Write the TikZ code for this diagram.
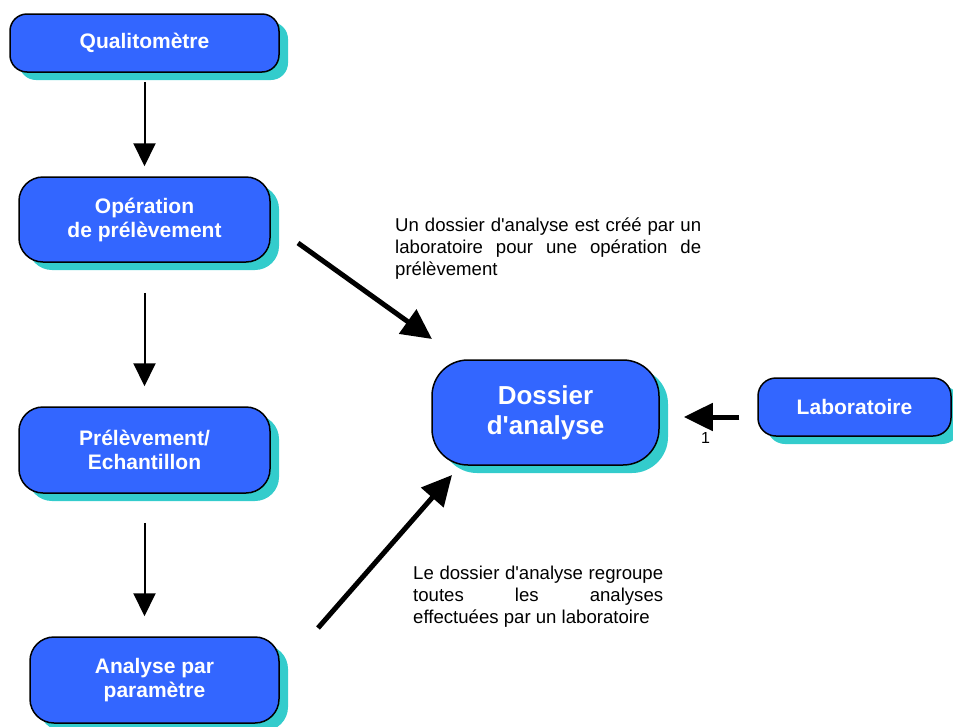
\documentclass[tikz,border=0pt]{standalone}
\usepackage{fontspec}
\setmainfont{Liberation Sans}
\usetikzlibrary{arrows.meta,shadows}
\definecolor{boxblue}{HTML}{3366FF}
\definecolor{shadowteal}{HTML}{33CCCC}
\newcommand{\apos}{\textquotesingle}
\begin{document}
\begin{tikzpicture}[x=1pt,y=-1pt,
  box/.style={draw=black, line width=1.5pt, fill=boxblue, text=white,
    font=\fontsize{21}{24}\selectfont\bfseries, align=center, inner sep=0pt,
    rounded corners=#1,
    drop shadow={shadow xshift=9pt, shadow yshift=-8pt, fill=shadowteal, opacity=1, draw=none}},
  box/.default=16pt,
  bigbox/.style={box=36pt, font=\fontsize{26}{30}\selectfont\bfseries},
  thinarrow/.style={line width=2pt, -{Triangle[width=22pt,length=23pt]}},
  thickarrow/.style={line width=5pt, -{Triangle[width=29pt,length=30pt]}},
  labarrow/.style={line width=5pt, -{Triangle[width=27pt,length=29pt]}},
  note/.style={font=\fontsize{18.6}{22}\selectfont, align=justify, inner sep=0pt, anchor=base west},
  lbl/.style={font=\fontsize{16}{18}\selectfont, inner sep=0pt}
]
\useasboundingbox (0,0) rectangle (953,726);

\node[box=17pt, minimum width=269pt, minimum height=58pt] (q) at (144.5,43) {Qualitomètre};
\node[box=24pt, minimum width=251pt, minimum height=85pt] (op) at (144.5,219.5) {Opération\\de prélèvement};
\node[box=24pt, minimum width=251pt, minimum height=86pt] (pe) at (144.5,450) {Prélèvement/\\Echantillon};
\node[box=24pt, minimum width=249pt, minimum height=86pt] (ap) at (154.5,680) {Analyse par\\paramètre};
\node[bigbox, minimum width=227pt, minimum height=105pt] (d) at (545.5,412.5) {Dossier\\d\apos analyse};
\node[box=18pt, minimum width=193pt, minimum height=58pt] (lab) at (854.5,407) {Laboratoire};

\draw[thinarrow, shorten <=9pt, shorten >=10pt] (q.south) -- (op.north);
\draw[thinarrow, shorten <=30pt, shorten >=20pt] (op.south) -- (pe.north);
\draw[thinarrow, shorten <=29pt, shorten >=20pt] (pe.south) -- (pe.south |- ap.north);

\coordinate (a1s) at (298,243);
\coordinate (a1e) at (432,339);
\draw[thickarrow] (a1s) -- (a1e);

\coordinate (a2s) at (318,628);
\coordinate (a2e) at (452,475);
\draw[thickarrow] (a2s) -- (a2e);

\coordinate (l1) at ([yshift=-10pt]lab.west);
\draw[labarrow, shorten <=18pt, shorten >=24pt] (l1) -- (l1 -| d.east);
\node[lbl, anchor=base] (one) at (705.5,443) {1};

\node[note, text width=306pt] (t1) at (395,231)
  {Un dossier d\apos analyse est créé par un\linebreak laboratoire pour une opération de\linebreak prélèvement};
\node[note, text width=250pt] (t2) at (413,579)
  {Le dossier d\apos analyse regroupe\linebreak toutes les analyses\linebreak effectuées par un laboratoire};
\end{tikzpicture}
\end{document}
